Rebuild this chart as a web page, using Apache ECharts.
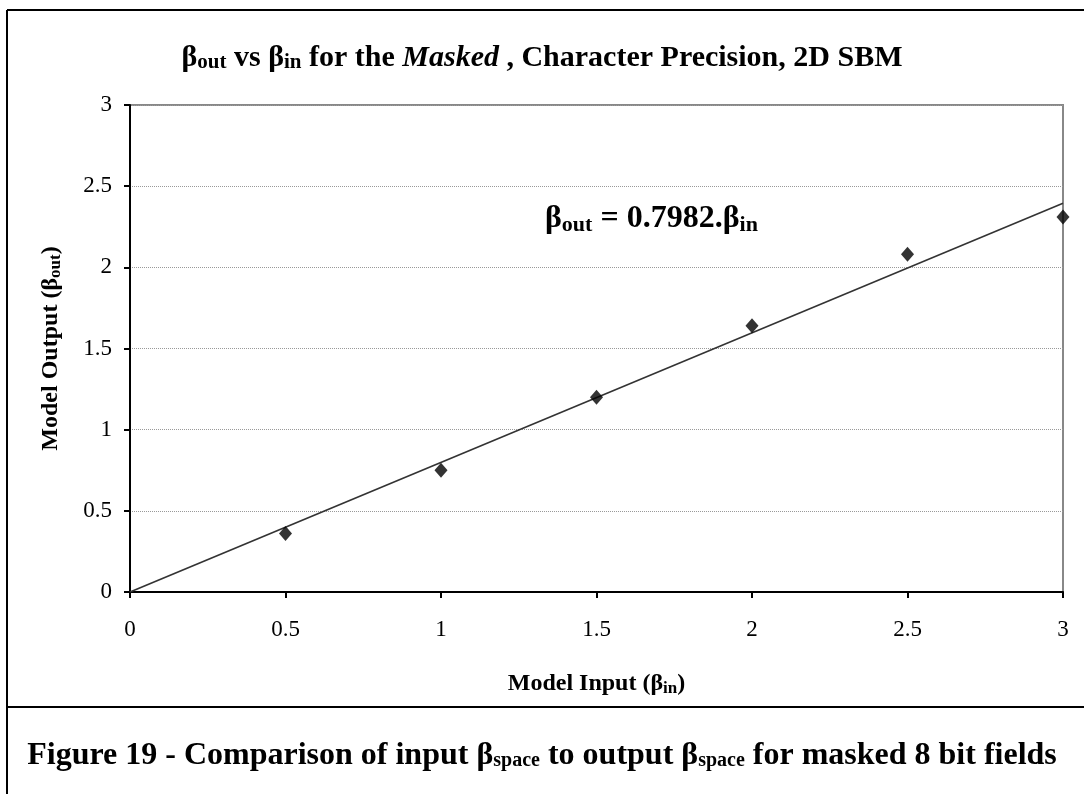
<!DOCTYPE html>
<html>
<head>
<meta charset="utf-8">
<script src="https://cdn.jsdelivr.net/npm/echarts@6/dist/echarts.min.js"></script>
<style>
  html, body { margin: 0; padding: 0; background: #fff; }
  #chart { width: 1084px; height: 794px; }
</style>
</head>
<body>
<div id="chart"></div>
<script>
// measured points (beta in -> beta out)
const betaIn = [0.5, 1, 1.5, 2, 2.5, 3];
const betaOut = [0.36, 0.75, 1.2, 1.64, 2.08, 2.31];

// linear fit through origin, slope 0.7982
const trendX = [0, 3];
const trendY = [0, 2.3946];

const axisTicks = [0, 0.5, 1, 1.5, 2, 2.5, 3];

const serif = "'Liberation Serif', 'Times New Roman', serif";

const chart = echarts.init(document.getElementById("chart"));

const sub = (size, pad) => ({
  fontFamily: serif,
  fontWeight: "bold",
  fontSize: size,
  color: "#000",
  padding: [pad, 0, 0, 0],
});
const main = (size) => ({
  fontFamily: serif,
  fontWeight: "bold",
  fontSize: size,
  color: "#000",
});

chart.setOption({
  animation: false,
  backgroundColor: "#fff",
  grid: {
    left: 130,
    right: 21,
    top: 105,
    bottom: 202,
    show: true,
    borderColor: "#888",
    borderWidth: 2,
  },
  xAxis: {
    type: "value",
    min: axisTicks[0],
    max: axisTicks[axisTicks.length - 1],
    interval: 0.5,
    name: "{b|Model Input (β}{s|in}{b|)}",
    nameLocation: "middle",
    nameGap: 79,
    nameTextStyle: { rich: { b: main(24), s: sub(17, 9) } },
    axisLine: { show: true, lineStyle: { color: "#000", width: 2 } },
    axisTick: { show: true, length: 6, lineStyle: { color: "#000", width: 2 } },
    axisLabel: {
      margin: 26,
      color: "#000",
      fontFamily: serif,
      fontSize: 23,
    },
    splitLine: { show: false },
  },
  yAxis: {
    type: "value",
    min: axisTicks[0],
    max: axisTicks[axisTicks.length - 1],
    interval: 0.5,
    name: "{b|Model Output (β}{s|out}{b|)}",
    nameLocation: "middle",
    nameRotate: 90,
    nameGap: 66,
    nameTextStyle: { rich: { b: main(24), s: sub(17, 9) } },
    axisLine: { show: true, lineStyle: { color: "#000", width: 2 } },
    axisTick: { show: true, inside: false, length: 6, lineStyle: { color: "#000", width: 2 } },
    axisLabel: {
      margin: 18,
      color: "#000",
      fontFamily: serif,
      fontSize: 23,
    },
    splitLine: { show: true, lineStyle: { color: "#999", type: "dotted", width: 1 } },
  },
  series: [
    {
      type: "line",
      data: trendX.map((x, i) => [x, trendY[i]]),
      showSymbol: false,
      lineStyle: { color: "#333", width: 1.6 },
      z: 2,
    },
    {
      type: "scatter",
      data: betaIn.map((x, i) => [x, betaOut[i]]),
      symbol: "diamond",
      symbolSize: [13, 15],
      itemStyle: { color: "#000" },
      z: 3,
    },
  ],
  graphic: [
    // outer frame
    { type: "line", shape: { x1: 7, y1: 10, x2: 1084, y2: 10 }, style: { stroke: "#000", lineWidth: 2 } },
    { type: "line", shape: { x1: 7, y1: 10, x2: 7, y2: 794 }, style: { stroke: "#000", lineWidth: 2 } },
    { type: "line", shape: { x1: 7, y1: 707, x2: 1084, y2: 707 }, style: { stroke: "#000", lineWidth: 2 } },
    // title
    {
      type: "text",
      left: "center",
      top: 43,
      style: {
        text: "{b|β}{s|out}{b| vs β}{s|in}{b| for the }{i|Masked}{b| , Character Precision, 2D SBM}",
        rich: {
          b: main(30),
          s: sub(21, 10),
          i: Object.assign(main(30), { fontStyle: "italic" }),
        },
      },
    },
    // fit equation
    {
      type: "text",
      left: 545,
      top: 203,
      style: {
        text: "{b|β}{s|out}{b| = 0.7982.β}{s|in}",
        rich: { b: main(32), s: sub(22, 12) },
      },
    },
    // caption
    {
      type: "text",
      left: "center",
      top: 740,
      style: {
        text: "{b|Figure 19 - Comparison of input β}{s|space}{b| to output β}{s|space}{b| for masked 8 bit fields}",
        rich: { b: main(32), s: sub(20, 10) },
      },
    },
  ],
});
</script>
</body>
</html>
